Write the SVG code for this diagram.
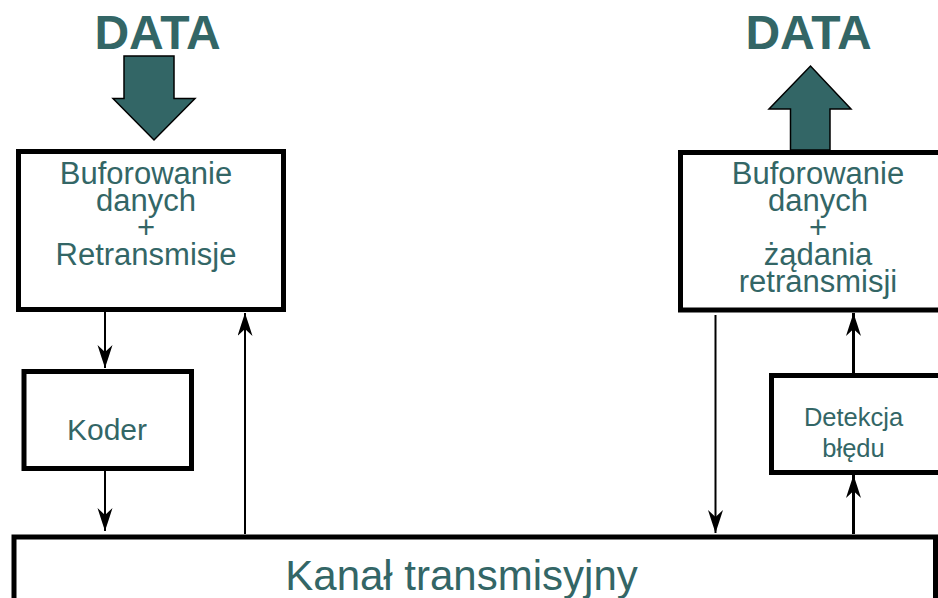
<svg xmlns="http://www.w3.org/2000/svg" width="938" height="598" viewBox="0 0 938 598">
  <style>
    .box { fill: #ffffff; stroke: #000000; stroke-width: 5; }
    .lbl { fill: #336666; font-family: "Liberation Sans", Arial, sans-serif; text-anchor: middle; }
    .title { fill: #336666; font-family: "Liberation Sans", Arial, sans-serif; font-weight: bold; font-size: 48px; text-anchor: middle; }
    .bigarrow { fill: #336666; stroke: #000000; stroke-width: 1.5; stroke-linejoin: miter; }
    .wire { fill: none; stroke: #000000; stroke-width: 2; }
    .wire.thick { stroke-width: 3; }
  </style>
  <defs>
    <marker id="head" markerUnits="userSpaceOnUse" markerWidth="24" markerHeight="16" refX="23" refY="7.5" orient="auto" viewBox="0 0 24 16">
      <path d="M23,7.5 Q11,3.5 0,0 L7,7.5 L0,15 Q11,11.5 23,7.5 Z" fill="#000000"/>
    </marker>
  </defs>

  <rect width="938" height="598" fill="#ffffff"/>

  <!-- incoming data on the sender side -->
  <g id="data-in">
    <text class="title" x="157.5" y="49">DATA</text>
    <path class="bigarrow" d="M124,56 H174 V98.5 H195 L154,140 L113,98.5 H124 Z"/>
  </g>

  <!-- outgoing data on the receiver side -->
  <g id="data-out">
    <text class="title" x="808.5" y="49">DATA</text>
    <path class="bigarrow" d="M790.5,150 V109 H769 L810.5,66 L851,109 H830 V150 Z"/>
  </g>

  <!-- sender buffer -->
  <g id="tx-buffer">
    <rect class="box" x="18.5" y="151.5" width="265" height="158"/>
    <text class="lbl" font-size="31" x="146" y="184">Buforowanie</text>
    <text class="lbl" font-size="31" x="146" y="211">danych</text>
    <text class="lbl" font-size="31" x="146" y="238">+</text>
    <text class="lbl" font-size="31" x="146" y="265">Retransmisje</text>
  </g>

  <!-- receiver buffer -->
  <g id="rx-buffer">
    <rect class="box" x="680.5" y="152.5" width="262" height="157.5"/>
    <text class="lbl" font-size="31" x="818" y="184">Buforowanie</text>
    <text class="lbl" font-size="31" x="818" y="211">danych</text>
    <text class="lbl" font-size="31" x="818" y="238">+</text>
    <text class="lbl" font-size="31" x="818" y="265">żądania</text>
    <text class="lbl" font-size="31" x="818" y="292">retransmisji</text>
  </g>

  <!-- encoder -->
  <g id="coder">
    <rect class="box" x="24" y="371.5" width="167.5" height="97"/>
    <text class="lbl" font-size="30" x="107" y="440">Koder</text>
  </g>

  <!-- error detection -->
  <g id="error-detection">
    <rect class="box" x="771.5" y="375.5" width="170" height="97"/>
    <text class="lbl" font-size="25.5" x="853.5" y="426">Detekcja</text>
    <text class="lbl" font-size="25.5" x="853.5" y="457">błędu</text>
  </g>

  <!-- transmission channel -->
  <g id="channel">
    <rect class="box" x="14" y="537" width="921.5" height="80"/>
    <text class="lbl" font-size="42" x="461.5" y="590">Kanał transmisyjny</text>
  </g>

  <g id="connectors">
    <line class="wire" x1="105" y1="312" x2="105" y2="368" marker-end="url(#head)"/>
    <line class="wire" x1="105" y1="471" x2="105" y2="531" marker-end="url(#head)"/>
    <line class="wire" x1="245" y1="534" x2="245" y2="313" marker-end="url(#head)"/>
    <line class="wire" x1="715.5" y1="315" x2="715.5" y2="533" marker-end="url(#head)"/>
    <line class="wire thick" x1="853.5" y1="534" x2="853.5" y2="475" marker-end="url(#head)"/>
    <line class="wire thick" x1="853.5" y1="373" x2="853.5" y2="313" marker-end="url(#head)"/>
  </g>
</svg>
